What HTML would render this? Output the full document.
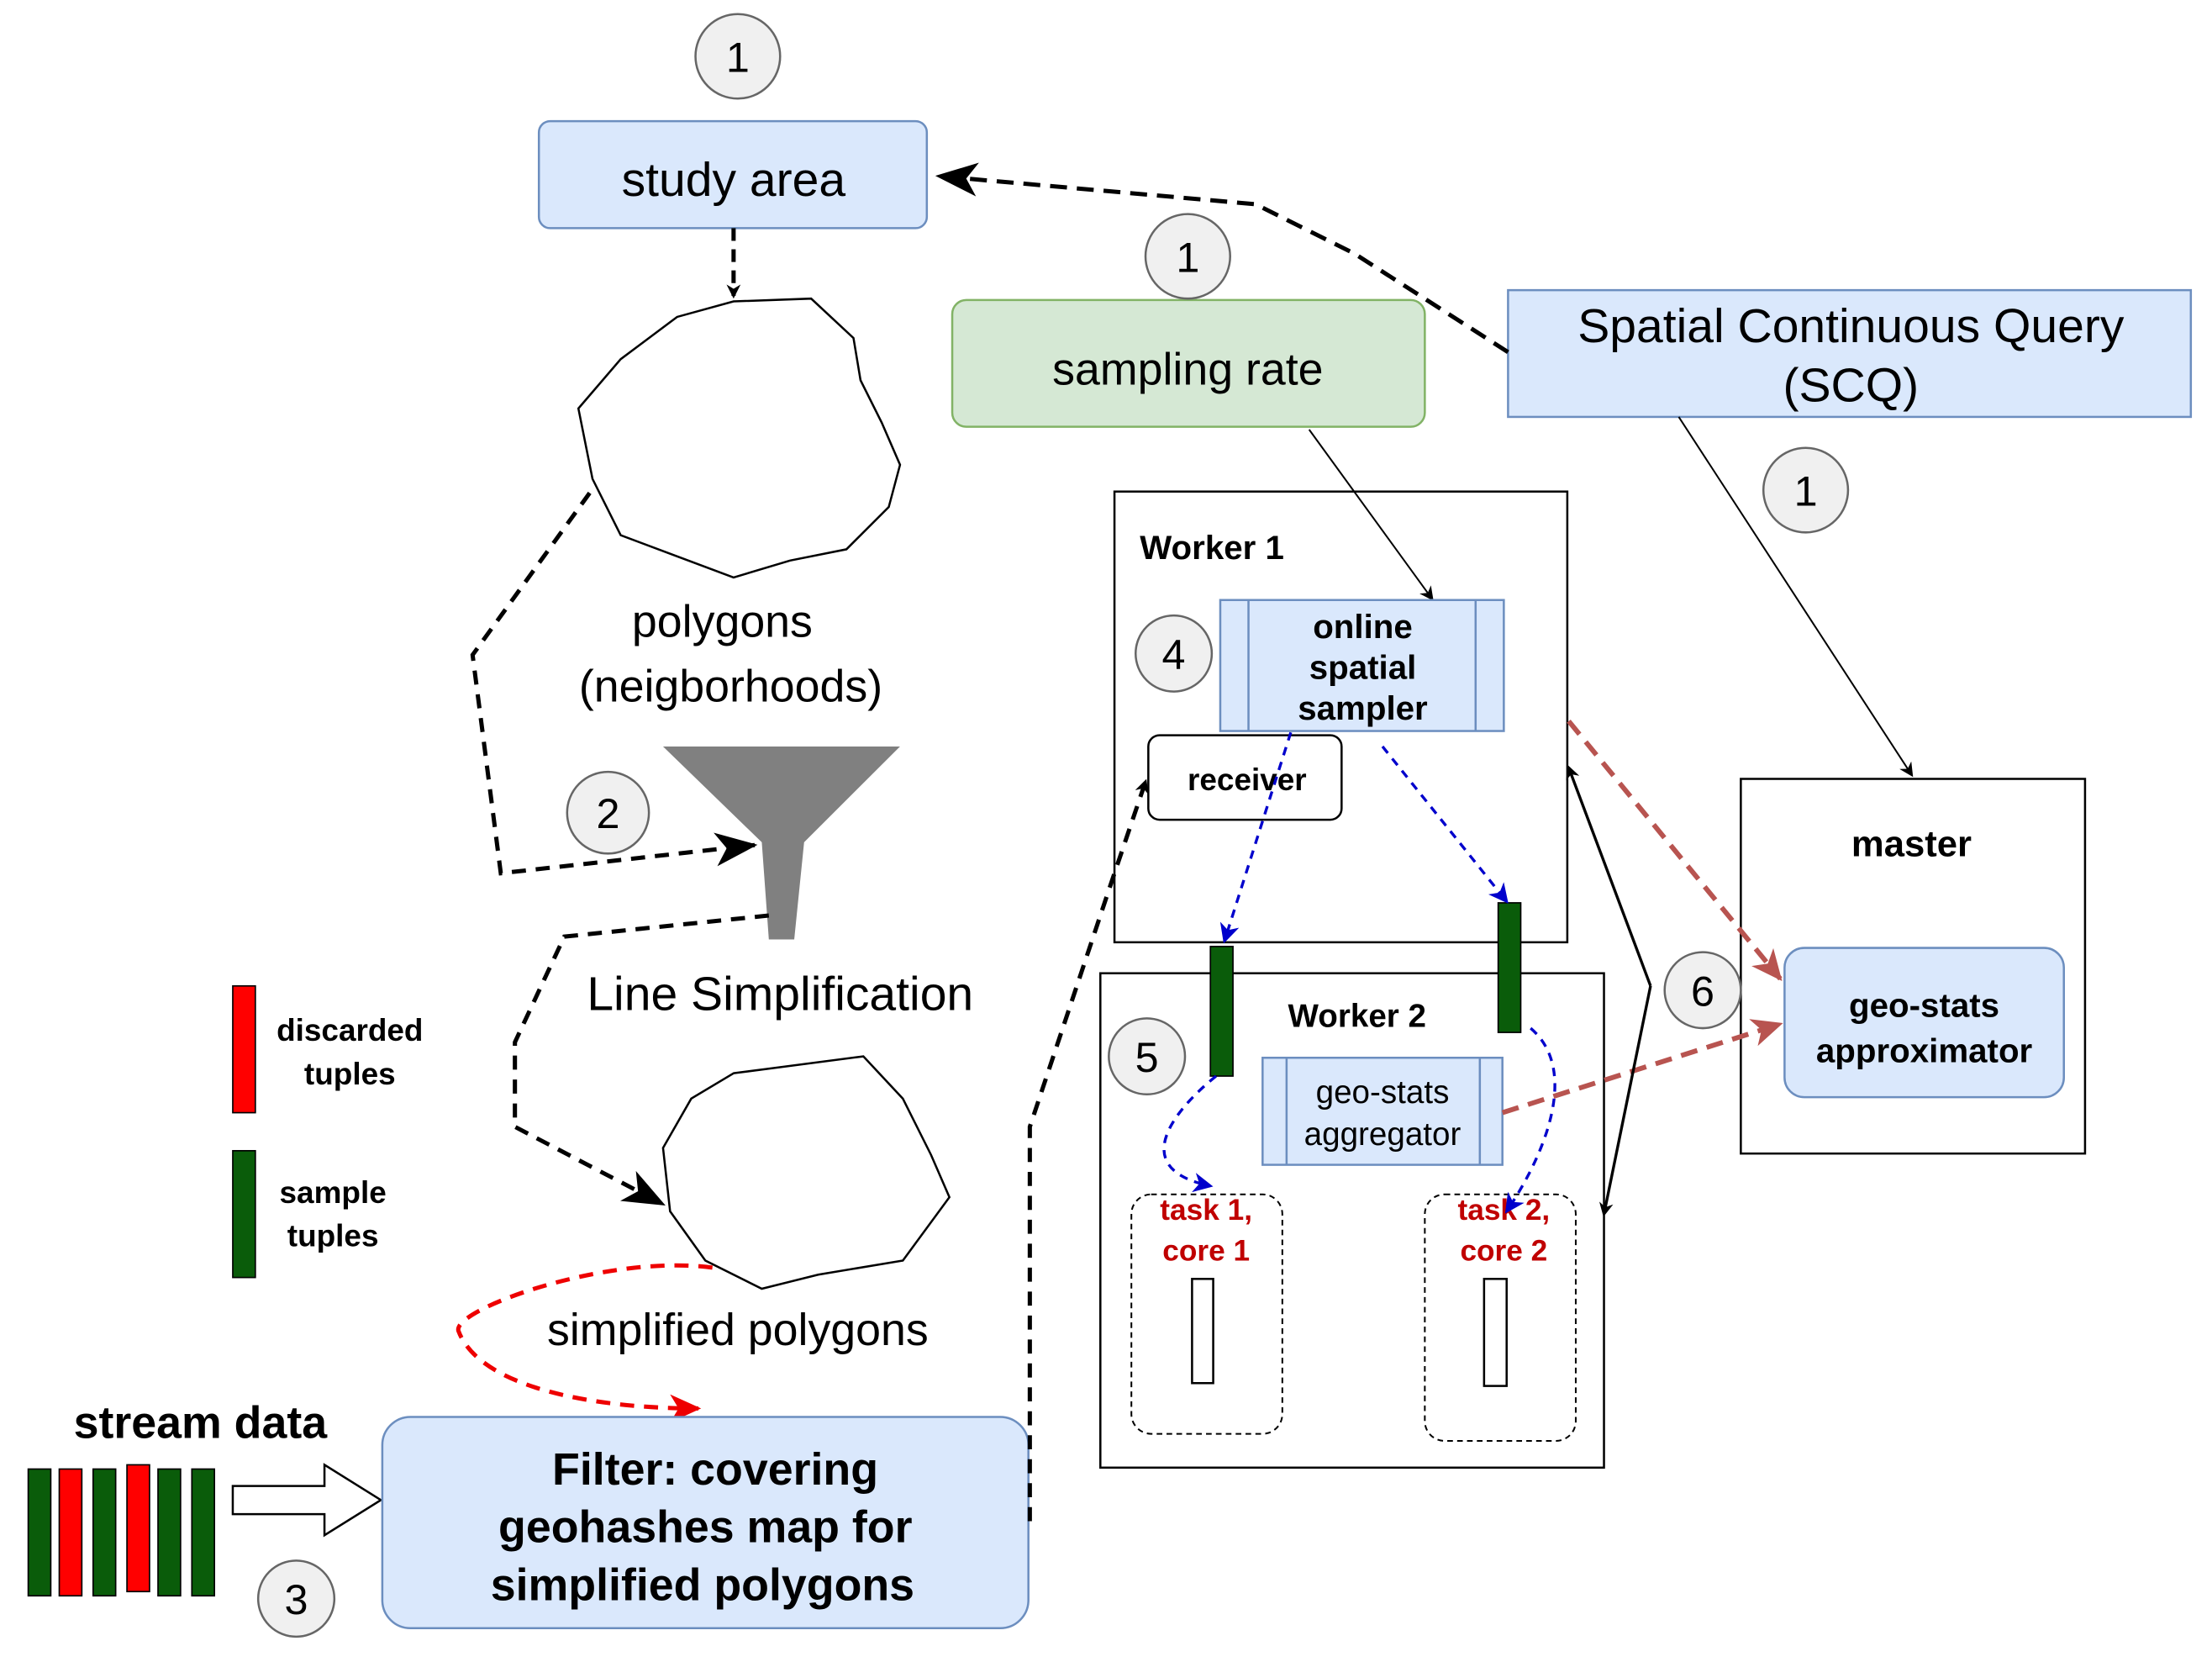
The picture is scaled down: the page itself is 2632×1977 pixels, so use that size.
<!DOCTYPE html>
<html><head><meta charset="utf-8"><style>
html,body{margin:0;padding:0;background:#fff;}
svg{display:block;}
text{font-family:"Liberation Sans","DejaVu Sans",sans-serif;}
</style></head><body>
<svg width="2632" height="1977" viewBox="0 0 1568 1180" preserveAspectRatio="none" xmlns="http://www.w3.org/2000/svg">
<defs>
<marker id="ab" markerWidth="10" markerHeight="10" refX="8" refY="5" orient="auto" markerUnits="userSpaceOnUse"><path d="M0,0 L10,5 L0,10 L3,5z" fill="#000"/></marker>
<marker id="abig" markerWidth="30" markerHeight="24" refX="28" refY="12" orient="auto" markerUnits="userSpaceOnUse"><path d="M0,0 L30,12 L0,24 L8,12z" fill="#000"/></marker>
<marker id="ablue" markerWidth="14" markerHeight="14" refX="12" refY="7" orient="auto" markerUnits="userSpaceOnUse"><path d="M0,0 L14,7 L0,14 L4,7z" fill="#0000cc"/></marker>
<marker id="abr" markerWidth="22" markerHeight="20" refX="20" refY="10" orient="auto" markerUnits="userSpaceOnUse"><path d="M0,0 L22,10 L0,20 L6,10z" fill="#b85450"/></marker>
<marker id="ared" markerWidth="22" markerHeight="20" refX="20" refY="10" orient="auto" markerUnits="userSpaceOnUse"><path d="M0,0 L22,10 L0,20 L6,10z" fill="#e00"/></marker>
</defs>
<rect x="382" y="86" width="275" height="76" rx="8" fill="#dae8fc" stroke="#6c8ebf" stroke-width="1.5"/>
<text x="520" y="139" font-size="34" text-anchor="middle">study area</text>
<line x1="520" y1="162" x2="520" y2="210" stroke="#000" stroke-width="3" stroke-dasharray="9,6" marker-end="url(#ab)"/>
<path d="M520,214 L575,212 L605,240 L610,270 L625,300 L638,330 L630,360 L600,390 L560,398 L520,410 L480,395 L440,380 L420,340 L410,290 L440,255 L480,225z" fill="#fff" stroke="#000" stroke-width="1.5"/>
<text x="512" y="452" font-size="32" text-anchor="middle">polygons</text>
<text x="518" y="498" font-size="32" text-anchor="middle">(neigborhoods)</text>
<rect x="675" y="213" width="335" height="90" rx="10" fill="#d5e8d4" stroke="#82b366" stroke-width="1.5"/>
<text x="842" y="273" font-size="32" text-anchor="middle">sampling rate</text>
<rect x="1069" y="206" width="484" height="90" fill="#dae8fc" stroke="#6c8ebf" stroke-width="1.5"/>
<text x="1312" y="243" font-size="34" text-anchor="middle">Spatial Continuous Query</text>
<text x="1312" y="285" font-size="34" text-anchor="middle">(SCQ)</text>
<path d="M1069,250 L960,180 L890,145 L665,125" fill="none" stroke="#000" stroke-width="3" stroke-dasharray="12,7" marker-end="url(#abig)"/>
<line x1="1190" y1="296" x2="1355" y2="550" stroke="#000" stroke-width="1.2" marker-end="url(#ab)"/>
<rect x="790" y="349" width="321" height="320" fill="#fff" stroke="#000" stroke-width="1.5"/>
<line x1="928" y1="305" x2="1015" y2="425" stroke="#000" stroke-width="1.2" marker-end="url(#ab)"/>
<text x="808" y="397" font-size="24" font-weight="bold">Worker 1</text>
<rect x="865" y="426" width="201" height="93" fill="#dae8fc" stroke="#6c8ebf" stroke-width="1.5"/>
<line x1="885" y1="426" x2="885" y2="519" stroke="#6c8ebf" stroke-width="1.5"/><line x1="1046" y1="426" x2="1046" y2="519" stroke="#6c8ebf" stroke-width="1.5"/>
<g font-size="24" font-weight="bold" text-anchor="middle"><text x="966" y="453">online</text><text x="966" y="482">spatial</text><text x="966" y="511">sampler</text></g>
<rect x="814" y="522" width="137" height="60" rx="8" fill="#fff" stroke="#000" stroke-width="1.5"/>
<text x="884" y="561" font-size="22" font-weight="bold" text-anchor="middle">receiver</text>
<rect x="1234" y="553" width="244" height="266" fill="#fff" stroke="#000" stroke-width="1.5"/>
<text x="1355" y="608" font-size="26" font-weight="bold" text-anchor="middle">master</text>
<rect x="1265" y="673" width="198" height="106" rx="14" fill="#dae8fc" stroke="#6c8ebf" stroke-width="1.5"/>
<g font-size="24" font-weight="bold" text-anchor="middle"><text x="1364" y="722">geo-stats</text><text x="1364" y="754">approximator</text></g>
<rect x="780" y="691" width="357" height="351" fill="#fff" stroke="#000" stroke-width="1.5"/>
<text x="913" y="729" font-size="23" font-weight="bold">Worker 2</text>
<rect x="895" y="751" width="170" height="76" fill="#dae8fc" stroke="#6c8ebf" stroke-width="1.5"/>
<line x1="912" y1="751" x2="912" y2="827" stroke="#6c8ebf" stroke-width="1.5"/><line x1="1049" y1="751" x2="1049" y2="827" stroke="#6c8ebf" stroke-width="1.5"/>
<g font-size="23" text-anchor="middle"><text x="980" y="783">geo-stats</text><text x="980" y="813">aggregator</text></g>
<rect x="802" y="848" width="107" height="170" rx="14" fill="none" stroke="#000" stroke-width="1.2" stroke-dasharray="4,3"/>
<rect x="1010" y="848" width="107" height="175" rx="14" fill="none" stroke="#000" stroke-width="1.2" stroke-dasharray="4,3"/>
<g font-size="21" font-weight="bold" fill="#c00000" text-anchor="middle"><text x="855" y="866">task 1,</text><text x="855" y="895">core 1</text><text x="1066" y="866">task 2,</text><text x="1066" y="895">core 2</text></g>
<rect x="845" y="908" width="15" height="74" fill="#fff" stroke="#000" stroke-width="1.5"/>
<rect x="1052" y="908" width="16" height="76" fill="#fff" stroke="#000" stroke-width="1.5"/>
<rect x="858" y="672" width="16" height="92" fill="#0a5c0a" stroke="#000"/>
<rect x="1062" y="641" width="16" height="92" fill="#0a5c0a" stroke="#000"/>
<g fill="none" stroke="#0000cc" stroke-width="2" stroke-dasharray="6,5">
<path d="M915,520 L868,668" marker-end="url(#ablue)"/>
<path d="M980,530 L1068,640" marker-end="url(#ablue)"/>
<path d="M862,764 C830,790 800,830 858,842" marker-end="url(#ablue)"/>
<path d="M1085,730 C1120,760 1095,820 1068,860" marker-end="url(#ablue)"/>
</g>
<g fill="none" stroke="#b85450" stroke-width="3.5" stroke-dasharray="12,7">
<path d="M1112,512 L1262,695" marker-end="url(#abr)"/>
<path d="M1065,790 L1262,727" marker-end="url(#abr)"/>
</g>
<path d="M1170,700 L1112,545" fill="none" stroke="#000" stroke-width="2" marker-end="url(#ab)"/>
<path d="M1170,700 L1137,862" fill="none" stroke="#000" stroke-width="2" marker-end="url(#ab)"/>
<polygon points="470,530 638,530 570,598 563,667 545,667 540,598" fill="#808080"/>
<path d="M418,350 L335,465 L355,620 L535,600" fill="none" stroke="#000" stroke-width="3" stroke-dasharray="10,7" marker-end="url(#abig)"/>
<text x="553" y="717" font-size="34" text-anchor="middle">Line Simplification</text>
<path d="M545,650 L400,665 L365,740 L365,800 L470,855" fill="none" stroke="#000" stroke-width="3" stroke-dasharray="10,7" marker-end="url(#abig)"/>
<path d="M520,762 L612,750 L640,780 L660,820 L673,850 L640,895 L580,905 L540,915 L500,895 L475,860 L470,815 L490,780z" fill="#fff" stroke="#000" stroke-width="1.5"/>
<text x="523" y="955" font-size="32" text-anchor="middle">simplified polygons</text>
<path d="M505,900 C430,890 320,930 325,945 C340,985 420,1000 495,1000" fill="none" stroke="#e00" stroke-width="3" stroke-dasharray="10,7" marker-end="url(#ared)"/>
<rect x="165" y="700" width="16" height="90" fill="#f00" stroke="#000"/>
<rect x="165" y="817" width="16" height="90" fill="#0a5c0a" stroke="#000"/>
<g font-size="22" font-weight="bold" text-anchor="middle"><text x="248" y="739">discarded</text><text x="248" y="770">tuples</text><text x="236" y="854">sample</text><text x="236" y="885">tuples</text></g>
<text x="142" y="1021" font-size="32" font-weight="bold" text-anchor="middle">stream data</text>
<g stroke="#000">
<rect x="20" y="1043" width="16" height="90" fill="#0a5c0a"/><rect x="42" y="1043" width="16" height="90" fill="#f00"/>
<rect x="66" y="1043" width="16" height="90" fill="#0a5c0a"/><rect x="90" y="1040" width="16" height="90" fill="#f00"/>
<rect x="112" y="1043" width="16" height="90" fill="#0a5c0a"/><rect x="136" y="1043" width="16" height="90" fill="#0a5c0a"/>
</g>
<polygon points="165,1055 230,1055 230,1040 270,1065 230,1090 230,1075 165,1075" fill="#fff" stroke="#000" stroke-width="1.5"/>
<rect x="271" y="1006" width="458" height="150" rx="20" fill="#dae8fc" stroke="#6c8ebf" stroke-width="1.5"/>
<g font-size="32" font-weight="bold" text-anchor="middle"><text x="507" y="1054">Filter: covering</text><text x="500" y="1095">geohashes map for</text><text x="498" y="1136">simplified polygons</text></g>
<path d="M730,1080 L730,800 L790,620 L812,555" fill="none" stroke="#000" stroke-width="3" stroke-dasharray="10,7" marker-end="url(#ab)"/>
<g stroke="#666" stroke-width="1.5" fill="#f0f0f0">
<circle cx="523" cy="40" r="30"/><circle cx="842" cy="182" r="30"/><circle cx="1280" cy="348" r="30"/>
<circle cx="832" cy="464" r="27"/><circle cx="1207" cy="703" r="27"/><circle cx="813" cy="750" r="27"/>
<circle cx="431" cy="577" r="29"/><circle cx="210" cy="1135" r="27"/>
</g>
<g font-size="30" text-anchor="middle" fill="#000">
<text x="523" y="51">1</text><text x="842" y="193">1</text><text x="1280" y="359">1</text>
<text x="832" y="475">4</text><text x="1207" y="714">6</text><text x="813" y="761">5</text>
<text x="431" y="588">2</text><text x="210" y="1146">3</text>
</g>
</svg>
</body></html>
